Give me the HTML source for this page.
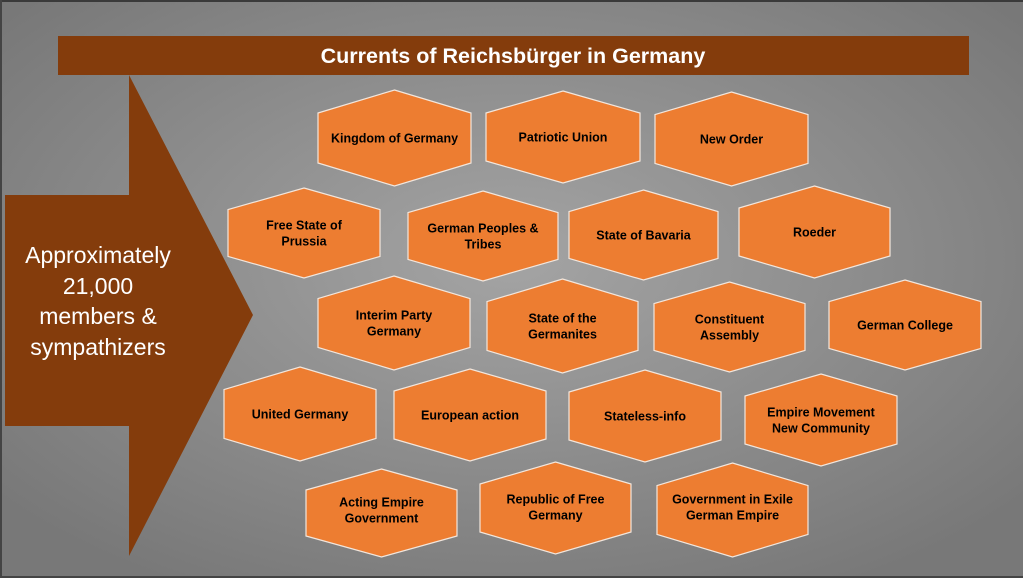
<!DOCTYPE html>
<html><head><meta charset="utf-8"><style>
html,body{margin:0;padding:0;}
body{width:1023px;height:578px;overflow:hidden;}
</style></head><body>
<svg width="1023" height="578" xmlns="http://www.w3.org/2000/svg" style="display:block">
<defs>
<radialGradient id="bg" cx="50%" cy="45%" r="65%">
<stop offset="0" stop-color="#a4a4a4"/><stop offset="1" stop-color="#787878"/>
</radialGradient>
</defs>
<rect width="1023" height="578" fill="url(#bg)"/>
<rect x="0" y="0" width="1023" height="2" fill="#3a3a3a"/>
<rect x="0" y="0" width="2" height="578" fill="#444"/>
<rect x="0" y="576" width="1023" height="2" fill="#444"/>
<rect x="58" y="36" width="911" height="39" fill="#843c0c"/>
<text x="513" y="63" font-family="Liberation Sans, sans-serif" font-size="21.5" font-weight="bold" fill="#fff" text-anchor="middle">Currents of Reichsbürger in Germany</text>
<polygon points="5,195 129,195 129,75 253,315 129,556 129,426 5,426" fill="#843c0c"/>
<g font-family="Liberation Sans, sans-serif" font-size="23" fill="#fff" text-anchor="middle">
<text x="98" y="263">Approximately</text>
<text x="98" y="294">21,000</text>
<text x="98" y="324">members &amp;</text>
<text x="98" y="355">sympathizers</text>
</g>
<g fill="#ed7d31" stroke="#f2e6dc" stroke-width="1.2">
<polygon points="394.5,90 471,113 471,163 394.5,186 318,163 318,113"/>
<polygon points="563,91 640,113 640,161 563,183 486,161 486,113"/>
<polygon points="731.5,92 808,114.6 808,163.4 731.5,186 655,163.4 655,114.6"/>
<polygon points="304,188 380,209.6 380,256.4 304,278 228,256.4 228,209.6"/>
<polygon points="483,191 558,212.6 558,259.4 483,281 408,259.4 408,212.6"/>
<polygon points="643.5,190 718,211.6 718,258.4 643.5,280 569,258.4 569,211.6"/>
<polygon points="814.5,186 890,208 890,256 814.5,278 739,256 739,208"/>
<polygon points="394,276 470,298.6 470,347.4 394,370 318,347.4 318,298.6"/>
<polygon points="562.5,279 638,301.6 638,350.4 562.5,373 487,350.4 487,301.6"/>
<polygon points="729.5,282 805,303.6 805,350.4 729.5,372 654,350.4 654,303.6"/>
<polygon points="905,280 981,301.6 981,348.4 905,370 829,348.4 829,301.6"/>
<polygon points="300,367 376,389.6 376,438.4 300,461 224,438.4 224,389.6"/>
<polygon points="470,369 546,391 546,439 470,461 394,439 394,391"/>
<polygon points="645,370 721,392 721,440 645,462 569,440 569,392"/>
<polygon points="821,374 897,396 897,444 821,466 745,444 745,396"/>
<polygon points="381.5,469 457,490 457,536 381.5,557 306,536 306,490"/>
<polygon points="555.5,462 631,484 631,532 555.5,554 480,532 480,484"/>
<polygon points="732.5,463 808,485.6 808,534.4 732.5,557 657,534.4 657,485.6"/>
</g>
<g font-family="Liberation Sans, sans-serif" font-size="12.5" font-weight="bold" fill="#000" text-anchor="middle">
<text x="394.5" y="142.5">Kingdom of Germany</text>
<text x="563" y="141.5">Patriotic Union</text>
<text x="731.5" y="143.5">New Order</text>
<text x="304" y="229.5">Free State of</text><text x="304" y="245.5">Prussia</text>
<text x="483" y="232.5">German Peoples &amp;</text><text x="483" y="248.5">Tribes</text>
<text x="643.5" y="239.5">State of Bavaria</text>
<text x="814.5" y="236.5">Roeder</text>
<text x="394" y="319.5">Interim Party</text><text x="394" y="335.5">Germany</text>
<text x="562.5" y="322.5">State of the</text><text x="562.5" y="338.5">Germanites</text>
<text x="729.5" y="323.5">Constituent</text><text x="729.5" y="339.5">Assembly</text>
<text x="905" y="329.5">German College</text>
<text x="300" y="418.5">United Germany</text>
<text x="470" y="419.5">European action</text>
<text x="645" y="420.5">Stateless-info</text>
<text x="821" y="416.5">Empire Movement</text><text x="821" y="432.5">New Community</text>
<text x="381.5" y="506.5">Acting Empire</text><text x="381.5" y="522.5">Government</text>
<text x="555.5" y="503.5">Republic of Free</text><text x="555.5" y="519.5">Germany</text>
<text x="732.5" y="503.5">Government in Exile</text><text x="732.5" y="519.5">German Empire</text>
</g>
</svg>
</body></html>
